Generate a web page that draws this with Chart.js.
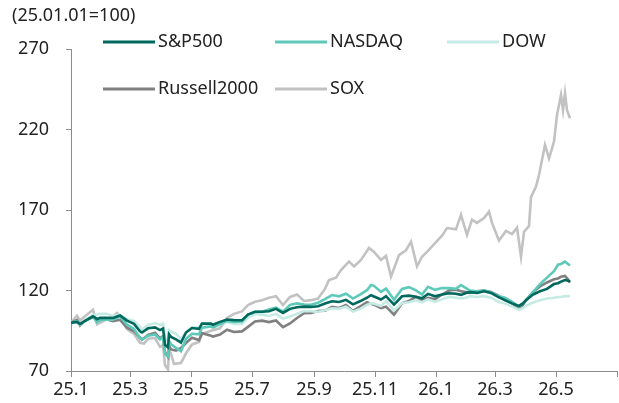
<!DOCTYPE html>
<html><head><meta charset="utf-8">
<script src="https://cdn.jsdelivr.net/npm/chart.js@4.4.1/dist/chart.umd.min.js"></script>
<style>html,body{margin:0;padding:0;background:#fff;}canvas{display:block;}</style>
</head><body>
<canvas id="c" width="619" height="403"></canvas>
<script>
const baseNote = "(25.01.01=100)";
const seriesNames = ["S&P500", "NASDAQ", "DOW", "Russell2000", "SOX"];
const seriesColors = ["#00695e", "#5ec9b9", "#c6ebe5", "#808080", "#c2c2c2"];
const tickDays = [0, 59, 120, 181, 243, 304, 365, 424, 485, 546];
const tickLabels = ["25.1", "25.3", "25.5", "25.7", "25.9", "25.11", "26.1", "26.3", "26.5", ""];
const yTicks = [70, 120, 170, 220, 270];

// days since 2025-01-01
const days = [0,6,9,14,22,26,29,35,42,49,56,63,69,71,77,84,89,92,93,94,97,98,100,105,110,115,121,128,131,140,142,149,156,163,171,177,184,191,198,205,212,219,226,233,240,247,254,261,268,275,282,289,296,300,303,310,315,323,331,338,345,351,357,364,371,378,385,390,395,399,406,413,420,427,434,441,448,452,455,462,469,476,483,487,490,494,497,499];

const sp500 = [100,100.5,99.1,101.2,104.0,102.2,103.0,103.1,102.9,104.5,101.3,99.3,94.7,93.9,96.5,97.1,95.4,96.4,91.8,86.3,84.7,92.8,91.2,89.7,87.7,93.9,96.7,96.2,99.4,99.4,98.7,100.5,102.0,101.6,101.5,105.0,106.8,106.8,107.1,108.6,106.1,108.6,109.6,110.0,109.8,110.2,111.9,113.3,112.9,114.2,111.4,113.3,115.5,117.1,116.3,114.4,116.5,111.2,116.4,116.8,116.1,115.2,117.9,116.4,117.5,118.3,118,117.3,118.5,119,118.5,119.5,118.5,116,114,112,110.4,112,114,117.5,119.5,121,124,124.5,125.5,126.5,126,125.5];

const nasdaq = [100,100.9,99.2,101.0,103.8,100.2,101.5,102.0,101.8,103.9,98.8,96.1,90.3,89.6,91.9,92.7,89.6,91.1,85.7,80.7,79.1,88.7,86.6,84.4,82.2,90.0,93.1,92.8,96.9,97.7,97.0,99.0,101.1,100.5,100.7,105.0,106.7,106.8,108.2,109.3,106.9,111.1,112.0,111.3,111.1,112.4,114.7,117.2,116.4,118.0,115.0,117.4,120.2,123.4,122.9,119.1,121.2,114.3,121.0,122.1,120.1,117.5,122.3,120.4,121.5,121.5,121,123.4,121.5,120,119.5,120,119,116.5,115.5,113,110,112,114,119,124,128,132,136,136.5,138,136.5,135.5];

const dow = [100,100.0,98.6,101.6,104.8,105.1,105.5,105.5,104.3,104.9,102.1,101.1,97.4,95.9,98.6,99.8,98.7,99.3,95.3,90.1,88.5,95.4,94.5,93.2,89.7,94.3,97.1,97.0,99.7,98.4,97.8,99.4,100.5,99.2,99.2,103.0,105.4,105.0,104.2,105.5,102.5,103.8,105.6,107.3,107.1,106.7,107.7,108.9,108.7,109.9,106.9,108.6,111.0,112.1,111.8,110.4,113.4,107.5,112.2,112.7,113.9,112.7,114.5,113.0,114.5,116,115.5,115,115.5,116.5,116,116.5,115.5,113,112,110,108,109,110.5,112.5,114,115,115.5,116,116,116.5,116.5,116.5];

const russell = [100,101.7,98.2,101.3,103.4,102.5,102.0,102.2,101.0,101.8,96.9,94.6,90.8,89.4,92.4,93.7,90.2,91.7,85.6,81.9,78.9,85.8,83.4,82.7,84.3,87.4,90.6,89.2,93.5,91.9,91.4,92.6,95.6,94.2,94.6,97.4,100.8,101.3,100.4,101.4,97.2,99.5,102.9,105.9,106.1,107.3,107.5,109.8,109.1,111.0,107.3,110.0,112.7,111.7,111.2,109.1,110.0,105.0,112.1,113.5,116.0,114.0,115.5,114.5,117.5,120,120.5,119.5,119,118.5,119.5,120,119,117,114,112,109,111,114,119,122.5,125,127,127.5,128.5,129,127,125];

const soxDays = [0,6,9,14,22,26,35,42,46,49,56,63,69,73,77,84,89,92,93,94,97,98,100,103,110,115,121,128,131,140,149,156,163,171,177,184,191,198,205,212,219,226,233,240,247,254,258,265,270,278,283,290,298,303,310,315,320,328,335,340,346,351,356,365,371,376,385,390,396,401,406,413,418,421,428,435,441,446,450,453,458,460,465,468,474,478,483,486,490,492,494,496,499];
const sox = [100,104.4,101.4,104,108,99,102,104,106,104,96,93,87.5,87,90,90.5,85,86,80,73.5,71,83,80.5,74.5,75,81,86.5,88,93,95,96.5,103,105.5,107,111,113,114,115.5,116.5,111,116,117.5,113.5,114,115,121,126.5,128,132.7,138,135,139,146.4,144,139,141.5,128.6,142,145,150.3,135,141,144,150,154,158.8,158,167,154.5,164,162,165,169,162,151,157,155,159,141,156.5,160,178,184.5,191.7,210.4,202,212.4,229,241.4,232,242.6,232,227];

const zip = (xs, ys) => xs.map((x, i) => ({x: x, y: ys[i]}));
const seriesData = [zip(days, sp500), zip(days, nasdaq), zip(days, dow), zip(days, russell), zip(soxDays, sox)];

const FONT = "'Noto Sans', 'Open Sans', sans-serif";
const legendSlots = [[103, 42], [275, 42], [447, 42], [103, 89], [275, 89]];

const overlay = {
  id: 'overlay',
  afterDraw(chart) {
    const ctx = chart.ctx;
    ctx.save();
    ctx.font = "18px " + FONT;
    ctx.fillStyle = "#222";
    ctx.textBaseline = "middle";
    ctx.textAlign = "left";
    ctx.fillText(baseNote, 12, 16);
    chart.data.datasets.forEach((ds, i) => {
      const [x, y] = legendSlots[i];
      ctx.strokeStyle = ds.borderColor;
      ctx.lineWidth = 3;
      ctx.beginPath();
      ctx.moveTo(x, y);
      ctx.lineTo(x + 52, y);
      ctx.stroke();
      ctx.fillStyle = "#222";
      ctx.fillText(ds.label, x + 55, y);
    });
    ctx.restore();
  }
};

new Chart(document.getElementById('c'), {
  type: 'line',
  data: {
    datasets: seriesNames.map((n, i) => ({
      label: n,
      data: seriesData[i],
      borderColor: seriesColors[i],
      backgroundColor: seriesColors[i],
      borderWidth: 2.6,
      pointRadius: 0,
      tension: 0,
      fill: false
    }))
  },
  options: {
    responsive: false,
    animation: false,
    devicePixelRatio: 1,
    layout: {padding: {top: 49, right: 2, left: 0, bottom: 0}},
    plugins: {legend: {display: false}, tooltip: {enabled: false}, title: {display: false}},
    scales: {
      x: {
        type: 'linear',
        min: 0, max: 546,
        afterBuildTicks: (s) => { s.ticks = tickDays.map(v => ({value: v})); },
        afterFit: (s) => { s.height = 32; },
        ticks: {
          autoSkip: false, maxRotation: 0, padding: 2,
          color: "#222", font: {family: FONT, size: 18},
          callback: (v) => { const k = tickDays.indexOf(v); return k >= 0 ? tickLabels[k] : ""; }
        },
        grid: {display: true, drawOnChartArea: false, drawTicks: true, tickLength: 6, color: "#8c8c8c"},
        border: {display: true, color: "#8c8c8c", width: 1}
      },
      y: {
        min: 70, max: 270,
        afterBuildTicks: (s) => { s.ticks = yTicks.map(v => ({value: v})); },
        afterFit: (s) => { s.width = 71; },
        ticks: {padding: 17, color: "#222", font: {family: FONT, size: 18}},
        grid: {display: true, drawOnChartArea: false, drawTicks: true, tickLength: 5, color: "#8c8c8c"},
        border: {display: true, color: "#8c8c8c", width: 1}
      }
    }
  },
  plugins: [overlay]
});
</script>
</body></html>
